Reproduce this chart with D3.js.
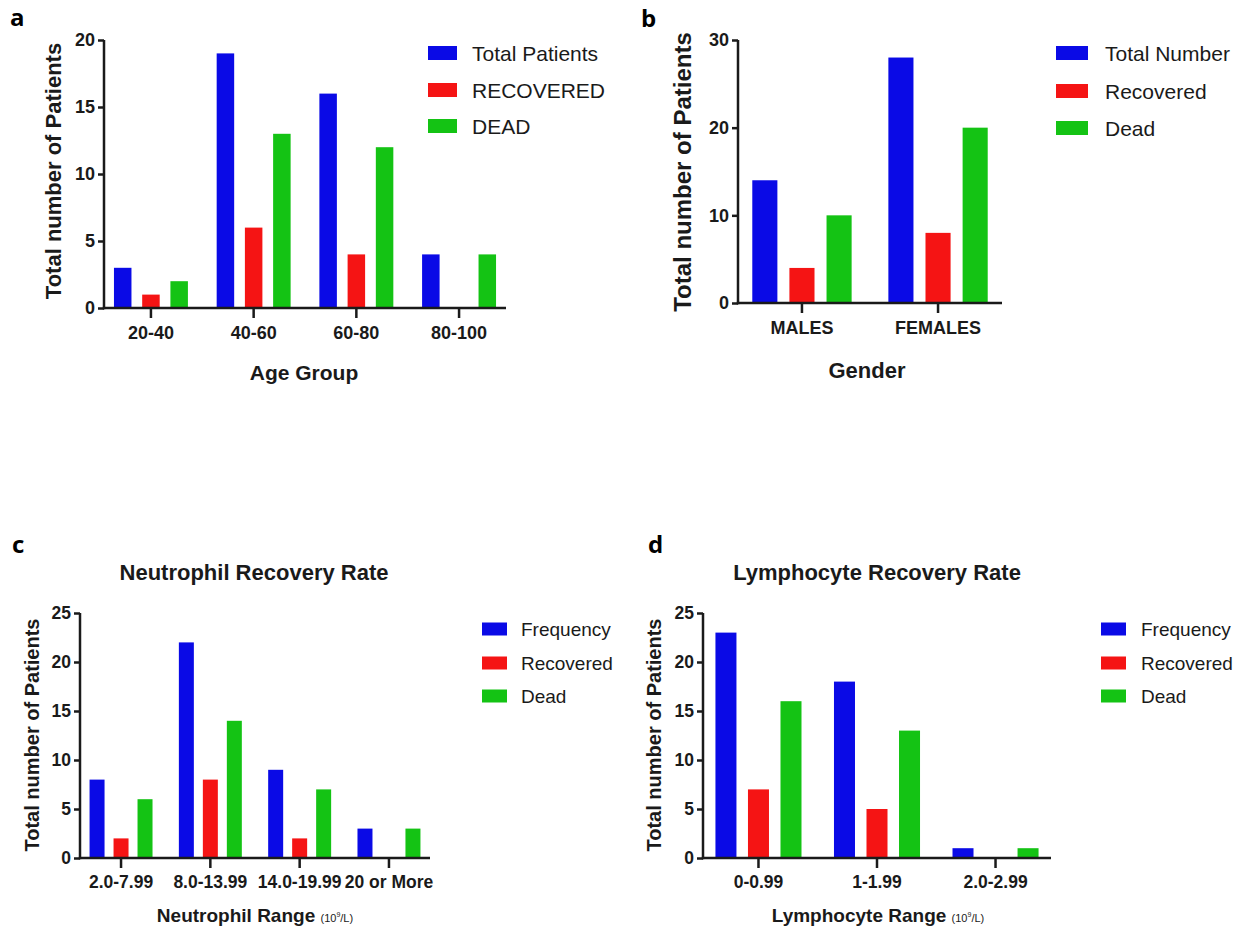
<!DOCTYPE html>
<html>
<head>
<meta charset="utf-8">
<script src="https://cdn.jsdelivr.net/npm/d3@7"></script>
<style>
  body { margin: 0; background: #fff; }
  svg { display: block; }
  .axis path, .axis line { stroke: #1a1a1a; stroke-width: 2.5; }
  .axis text { font-family: "Liberation Sans", Arial, sans-serif; font-weight: bold; fill: #1a1a1a; }
</style>
</head>
<body>
<div id="chart"></div>
<script>
// panel a - age groups
const ageGroups = ["20-40", "40-60", "60-80", "80-100"];
const ageTotal = [3, 19, 16, 4];
const ageRecovered = [1, 6, 4, 0];
const ageDead = [2, 13, 12, 4];
const ageTicks = [0, 5, 10, 15, 20];
const ageLegend = ["Total Patients", "RECOVERED", "DEAD"];

// panel b - gender
const genders = ["MALES", "FEMALES"];
const genderTotal = [14, 28];
const genderRecovered = [4, 8];
const genderDead = [10, 20];
const genderTicks = [0, 10, 20, 30];
const genderLegend = ["Total Number", "Recovered", "Dead"];

// panel c - neutrophil ranges
const neutroRanges = ["2.0-7.99", "8.0-13.99", "14.0-19.99", "20 or More"];
const neutroFreq = [8, 22, 9, 3];
const neutroRecovered = [2, 8, 2, 0];
const neutroDead = [6, 14, 7, 3];

// panel d - lymphocyte ranges
const lymphoRanges = ["0-0.99", "1-1.99", "2.0-2.99"];
const lymphoFreq = [23, 18, 1];
const lymphoRecovered = [7, 5, 0];
const lymphoDead = [16, 13, 1];

const rateTicks = [0, 5, 10, 15, 20, 25];
const rateLegend = ["Frequency", "Recovered", "Dead"];

const colors = ["#0a0ae6", "#f51414", "#14c314"];

const svg = d3.select("#chart").append("svg")
  .attr("width", 1247)
  .attr("height", 927);

const panels = [
  {
    letter: "a", lx: 10, ly: 26,
    cats: ageGroups, series: [ageTotal, ageRecovered, ageDead], legend: ageLegend,
    ticks: ageTicks, ymax: 20,
    x0: 104, x1: 506, y0: 308, y1: 40, pi: 0.28, po: 0.097, pi2: 0.38,
    tickFont: 18, xLabel: "Age Group", xLabelFont: 21, xlx: 304, xly: 380,
    yLabelFont: 22, ylx: 53, yly: 171,
    legX: 428, legW: 29, legH: 14, legText: 472, legRows: [53, 90, 126], legFont: 21
  },
  {
    letter: "b", lx: 641, ly: 27,
    cats: genders, series: [genderTotal, genderRecovered, genderDead], legend: genderLegend,
    ticks: genderTicks, ymax: 30,
    x0: 738, x1: 1002, y0: 303, y1: 40, pi: 0.27, po: 0.105, pi2: 0.324,
    tickFont: 18, xLabel: "Gender", xLabelFont: 22, xlx: 867, xly: 378,
    yLabelFont: 24, ylx: 682, yly: 172,
    legX: 1056, legW: 32, legH: 14, legText: 1105, legRows: [53, 91, 128], legFont: 21
  },
  {
    letter: "c", lx: 12, ly: 553, title: "Neutrophil Recovery Rate", tx: 254, ty: 580,
    cats: neutroRanges, series: [neutroFreq, neutroRecovered, neutroDead], legend: rateLegend,
    ticks: rateTicks, ymax: 25,
    x0: 80, x1: 430, y0: 858, y1: 613, pi: 0.295, po: 0.107, pi2: 0.375,
    tickFont: 17.5, xLabel: "Neutrophil Range", unit: true, xLabelFont: 19, xlx: 255, xly: 922,
    yLabelFont: 20, ylx: 32, yly: 735,
    legX: 482, legW: 25, legH: 13, legText: 521, legRows: [629, 663, 696], legFont: 19
  },
  {
    letter: "d", lx: 648, ly: 553, title: "Lymphocyte Recovery Rate", tx: 877, ty: 580,
    cats: lymphoRanges, series: [lymphoFreq, lymphoRecovered, lymphoDead], legend: rateLegend,
    ticks: rateTicks, ymax: 25,
    x0: 703, x1: 1051, y0: 858, y1: 613, pi: 0.274, po: 0.105, pi2: 0.354,
    tickFont: 17.5, xLabel: "Lymphocyte Range", unit: true, xLabelFont: 19, xlx: 878, xly: 922,
    yLabelFont: 20, ylx: 654, yly: 735,
    legX: 1101, legW: 25, legH: 13, legText: 1141, legRows: [629, 663, 696], legFont: 19
  }
];

panels.forEach(drawPanel);

function drawPanel(p) {
  const g = svg.append("g");

  const x = d3.scaleBand()
    .domain(p.cats)
    .range([p.x0, p.x1])
    .paddingInner(p.pi)
    .paddingOuter(p.po);

  const xs = d3.scaleBand()
    .domain(d3.range(p.series.length))
    .range([0, x.bandwidth()])
    .paddingInner(p.pi2);

  const y = d3.scaleLinear()
    .domain([0, p.ymax])
    .range([p.y0, p.y1]);

  // bars
  p.series.forEach((vals, si) => {
    g.append("g").selectAll("rect")
      .data(vals.map((v, i) => ({ cat: p.cats[i], v: v })).filter(d => d.v > 0))
      .enter().append("rect")
      .attr("x", d => x(d.cat) + xs(si))
      .attr("y", d => y(d.v))
      .attr("width", xs.bandwidth())
      .attr("height", d => y(0) - y(d.v))
      .attr("fill", colors[si]);
  });

  // axes
  const xAxis = g.append("g")
    .attr("class", "axis")
    .attr("transform", `translate(0,${p.y0})`)
    .call(d3.axisBottom(x).tickSize(10).tickSizeOuter(0).tickPadding(8));
  xAxis.selectAll("text").style("font-size", p.tickFont + "px");

  const yAxis = g.append("g")
    .attr("class", "axis")
    .attr("transform", `translate(${p.x0},0)`)
    .call(d3.axisLeft(y).tickValues(p.ticks).tickSize(6).tickSizeOuter(0).tickPadding(3));
  yAxis.selectAll("text").style("font-size", p.tickFont + "px");
  yAxis.select(".domain").attr("d", `M0,${p.y0 + 1.2}V${p.y1}`);
  xAxis.select(".domain").attr("d", `M${p.x0 - 1.2},0H${p.x1}`);

  // y label
  g.append("text")
    .attr("transform", `translate(${p.ylx},${p.yly}) rotate(-90)`)
    .attr("text-anchor", "middle")
    .attr("dominant-baseline", "central")
    .style("font-family", "'Liberation Sans', Arial, sans-serif")
    .style("font-weight", "bold")
    .style("font-size", p.yLabelFont + "px")
    .style("fill", "#1a1a1a")
    .text("Total number of Patients");

  // x label, with the small unit note for c and d
  const xl = g.append("text")
    .attr("x", p.xlx)
    .attr("y", p.xly)
    .attr("text-anchor", "middle")
    .style("font-family", "'Liberation Sans', Arial, sans-serif")
    .style("font-weight", "bold")
    .style("font-size", p.xLabelFont + "px")
    .style("fill", "#1a1a1a")
    .text(p.xLabel + " ");
  if (p.unit) {
    xl.append("tspan").style("font-size", "11px").style("font-weight", "normal").text("(10");
    xl.append("tspan").style("font-size", "7px").style("font-weight", "normal")
      .attr("dy", -5).text("9");
    xl.append("tspan").style("font-size", "11px").style("font-weight", "normal")
      .attr("dy", 5).text("/L)");
  }

  // title
  if (p.title) {
    g.append("text")
      .attr("x", p.tx)
      .attr("y", p.ty)
      .attr("text-anchor", "middle")
      .style("font-family", "'Liberation Sans', Arial, sans-serif")
      .style("font-weight", "bold")
      .style("font-size", "22px")
      .style("fill", "#1a1a1a")
      .text(p.title);
  }

  // panel letter
  g.append("text")
    .attr("x", p.lx)
    .attr("y", p.ly)
    .style("font-family", "'Open Sans', sans-serif")
    .style("font-weight", "bold")
    .style("font-size", "24px")
    .style("fill", "#000")
    .text(p.letter);

  // legend
  const leg = g.append("g");
  p.legend.forEach((name, i) => {
    leg.append("rect")
      .attr("x", p.legX)
      .attr("y", p.legRows[i] - p.legH / 2)
      .attr("width", p.legW)
      .attr("height", p.legH)
      .attr("fill", colors[i]);
    leg.append("text")
      .attr("x", p.legText)
      .attr("y", p.legRows[i])
      .attr("dominant-baseline", "central")
      .style("font-family", "'Liberation Sans', Arial, sans-serif")
      .style("font-size", p.legFont + "px")
      .style("fill", "#1a1a1a")
      .text(name);
  });
}
</script>
</body>
</html>
